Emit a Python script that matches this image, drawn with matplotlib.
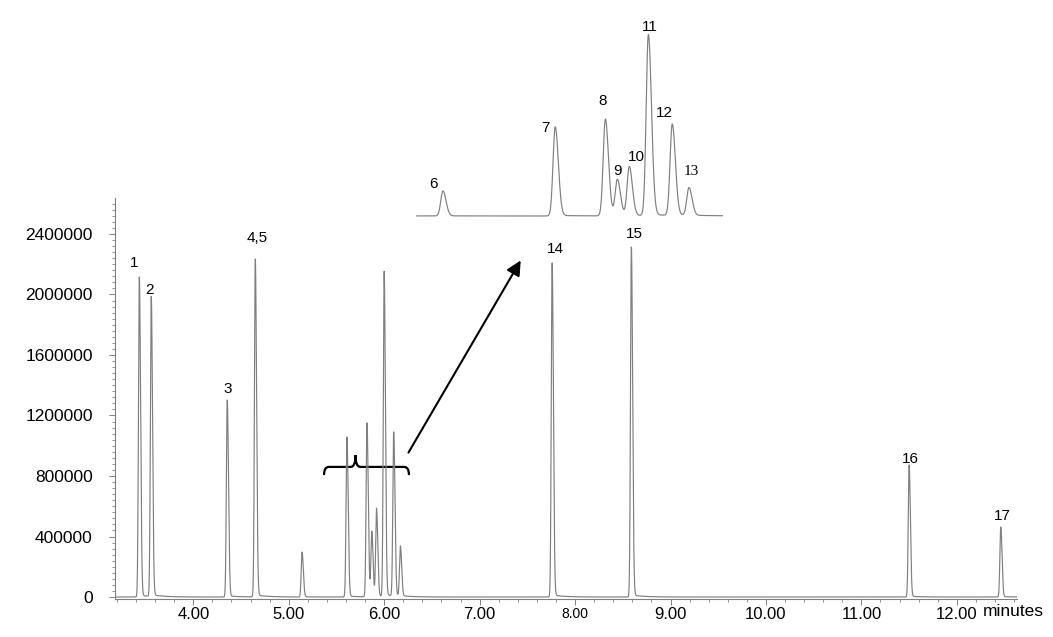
import numpy as np
import matplotlib.pyplot as plt
from matplotlib.path import Path
from matplotlib.patches import PathPatch

plt.rcParams['font.family'] = ['Liberation Sans', 'DejaVu Sans']

# peak retention times (min) and heights
peak_times = [3.435, 3.56, 4.356, 4.65, 5.14, 5.61, 5.82, 5.87, 5.92, 6.00, 6.10, 6.17,
              7.76, 8.59, 11.50, 12.46]
peak_heights = [2115000, 1983000, 1302000, 2234000, 297000, 1058000, 1150000, 430000,
                582000, 2149000, 1084000, 330000, 2208000, 2314000, 873000, 463000]
peak_labels = ["1", "2", "3", "4,5", "6", "7", "8", "9", "10", "11", "12", "13",
               "14", "15", "16", "17"]

y_ticks = [0, 400000, 800000, 1200000, 1600000, 2000000, 2400000]
x_ticks = [4, 5, 6, 7, 8, 9, 10, 11, 12]
x_ticklabels = ["4.00", "5.00", "6.00", "7.00", "8.00", "9.00", "10.00", "11.00", "12.00"]

# label offsets (points) from each peak top, main chart / inset
main_offsets = {"1": (-4, 5), "2": (-1, 0), "3": (0, 3), "4,5": (1, 10), "14": (2, 5),
                "15": (2, 4), "16": (1, -1), "17": (1, 3)}
inset_offsets = {"6": (-7, 0), "7": (-7, -6), "8": (-2, 8), "9": (0, 1), "10": (5, 2),
                 "11": (1, 0.5), "12": (-6, 3), "13": (2, 7)}


def trace(t):
    y = np.zeros_like(t)
    for t0, h in zip(peak_times, peak_heights):
        d = t - t0
        sig = np.where(d < 0, 0.009, 0.013)
        shape = np.exp(-0.5 * (d / sig) ** 2)
        dp = np.clip(d, 0, None)
        slow = 0.006 * np.exp(-dp / 0.12) * (1 - np.exp(-dp / 0.01))
        y += h * (shape + slow)
    return y


t = np.arange(3.18, 12.63, 0.0005)
y = trace(t)

fig = plt.figure(figsize=(10.53, 6.37), dpi=100)
ax = fig.add_axes([0.1092, 0.0597, 0.8566, 0.6295])
ax.plot(t, y, color="#808080", lw=0.85)
ax.set_xlim(3.18, 12.63)
ax.set_ylim(-13000, 2638000)

for s in ["top", "right"]:
    ax.spines[s].set_visible(False)
for s in ["left", "bottom"]:
    ax.spines[s].set_color("#808080")
    ax.spines[s].set_linewidth(0.8)

ax.set_yticks(y_ticks)
ax.set_yticklabels([str(v) for v in y_ticks], fontsize=12.5)
ax.set_yticks(np.arange(0, 2640000, 40000), minor=True)
ax.set_xticks(x_ticks)
ax.set_xticklabels(x_ticklabels, fontsize=12)
ax.set_xticks(np.arange(3.2, 12.61, 0.2), minor=True)
ax.tick_params(axis="both", which="major", length=4, width=0.7, color="#808080")
ax.tick_params(axis="both", which="minor", length=2, width=0.6, color="#808080")
ax.tick_params(axis="y", pad=12)
ax.tick_params(axis="x", pad=2)
ax.get_xticklabels()[4].set_fontsize(10)
ax.text(12.27, -0.03, "minutes", transform=ax.get_xaxis_transform(), fontsize=12.5,
        ha="left", va="center")

for lab, t0, h in zip(peak_labels, peak_times, peak_heights):
    if lab in main_offsets:
        ax.annotate(lab, (t0, h), xytext=main_offsets[lab], textcoords="offset points",
                    ha="center", va="bottom", fontsize=11)

# brace under the 6-13 cluster
bx0, bx1, bc = 5.37, 6.26, 5.70
by, byl, byc = 860000, 806000, 939000
verts = [(bx0, byl), (bx0, by), (bx0 + 0.05, by), (bc - 0.05, by), (bc, by), (bc, byc),
         (bc, by), (bc + 0.05, by), (bx1 - 0.05, by), (bx1, by), (bx1, byl)]
codes = [Path.MOVETO, Path.CURVE3, Path.CURVE3, Path.LINETO, Path.CURVE3, Path.CURVE3,
         Path.CURVE3, Path.CURVE3, Path.LINETO, Path.CURVE3, Path.CURVE3]
ax.add_patch(PathPatch(Path(verts, codes), fill=False, lw=1.6, color="black"))

ax.annotate("", xy=(7.445, 2241000), xytext=(6.24, 939000),
            arrowprops=dict(arrowstyle="-|>", color="black", lw=1.5, mutation_scale=22))

# expanded inset of peaks 6-13
ins = fig.add_axes([0.395, 0.6578, 0.2915, 0.311])
mask = (t > 5.027) & (t < 6.312)
ins.plot(t[mask], y[mask], color="#808080", lw=0.85)
ins.set_xlim(5.027, 6.312)
ins.set_ylim(-23700, 2327000)
ins.axis("off")
for lab, t0, h in zip(peak_labels, peak_times, peak_heights):
    if lab in inset_offsets:
        fam = ["Liberation Serif"] if lab == "13" else ["Liberation Sans"]
        ins.annotate(lab, (t0, h), xytext=inset_offsets[lab], textcoords="offset points",
                     ha="center", va="bottom", fontsize=11, family=fam)

fig.savefig("out.png", dpi=100)
